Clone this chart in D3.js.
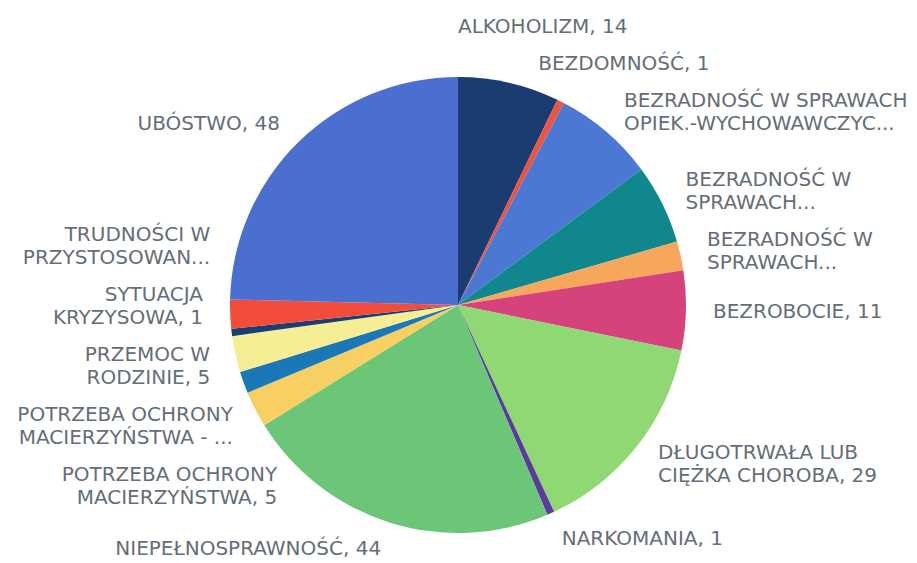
<!DOCTYPE html>
<html>
<head>
<meta charset="utf-8">
<script src="https://cdn.jsdelivr.net/npm/d3@7"></script>
<style>
  body { margin: 0; background: #fff; }
  .slice-label { font-family: "DejaVu Sans", sans-serif; font-size: 20px; fill: #656d78; }
</style>
</head>
<body>
<div id="chart"></div>
<script>
// label text as shown in the chart (lines)
const labelLines = [
  ['ALKOHOLIZM, 14'],
  ['BEZDOMNOŚĆ, 1'],
  ['BEZRADNOŚĆ W SPRAWACH', 'OPIEK.-WYCHOWAWCZYC...'],
  ['BEZRADNOŚĆ W', 'SPRAWACH...'],
  ['BEZRADNOŚĆ W', 'SPRAWACH...'],
  ['BEZROBOCIE, 11'],
  ['DŁUGOTRWAŁA LUB', 'CIĘŻKA CHOROBA, 29'],
  ['NARKOMANIA, 1'],
  ['NIEPEŁNOSPRAWNOŚĆ, 44'],
  ['POTRZEBA OCHRONY', 'MACIERZYŃSTWA, 5'],
  ['POTRZEBA OCHRONY', 'MACIERZYŃSTWA - ...'],
  ['PRZEMOC W', 'RODZINIE, 5'],
  ['SYTUACJA', 'KRYZYSOWA, 1'],
  ['TRUDNOŚCI W', 'PRZYSTOSOWAN...'],
  ['UBÓSTWO, 48']
];
const values = [14, 1, 14, 11, 4, 11, 29, 1, 44, 5, 3, 5, 1, 4, 48];
const colors = [
  '#1b3c70', '#f0533d', '#4b78d2', '#0f878d', '#f7a75c',
  '#d6427b', '#90d873', '#5b3a9e', '#6cc677', '#f7cf62',
  '#1b78b6', '#f6ee94', '#1c3d72', '#f24c3a', '#4b6fd1'
];

const width = 917, height = 563;
const cx = 458, cy = 305, radius = 228;
const labelR = 255, lineH = 23, pad = 14;

const svg = d3.select('#chart')
  .append('svg')
  .attr('width', width)
  .attr('height', height);

const pie = d3.pie().sort(null).value(d => d);
const arcs = pie(values);
const arc = d3.arc().innerRadius(0).outerRadius(radius);

const chart = svg.append('g')
  .attr('transform', `translate(${cx},${cy})`);

chart.selectAll('.slice')
  .data(arcs)
  .enter()
  .append('path')
  .classed('slice', true)
  .attr('d', arc)
  .attr('fill', (d, i) => colors[i]);

// label layout: start at mid angle on a ring, then push overlapping ones apart
const labels = arcs.map((a, i) => {
  const m = (a.startAngle + a.endAngle) / 2;
  return {
    i,
    right: m < Math.PI,
    y: -labelR * Math.cos(m),
    h: labelLines[i].length * lineH + pad
  };
});

// anchorBottom: keep the lowest label of a group in place and stack the rest above it
const spread = (list, anchorBottom) => {
  list.sort((a, b) => a.y - b.y);
  const place = g => {
    const H = d3.sum(g.items, d => d.h);
    let t;
    if (anchorBottom) {
      const last = g.items[g.items.length - 1];
      t = last.y + last.h / 2 - H;
    } else {
      t = d3.mean(g.items, d => d.y) - H / 2;
    }
    g.top = t;
    g.bottom = t + H;
    g.items.forEach(d => { d.ny = t + d.h / 2; t += d.h; });
  };
  const groups = list.map(d => ({ items: [d] }));
  groups.forEach(place);
  let merged = true;
  while (merged) {
    merged = false;
    for (let k = 0; k < groups.length - 1; k++) {
      if (groups[k].bottom > groups[k + 1].top) {
        groups[k].items = groups[k].items.concat(groups[k + 1].items);
        groups.splice(k + 1, 1);
        place(groups[k]);
        merged = true;
        break;
      }
    }
  }
};
spread(labels.filter(d => d.right), true);
spread(labels.filter(d => !d.right), false);

labels.forEach(d => {
  const dx = Math.sqrt(Math.max(0, labelR * labelR - d.ny * d.ny));
  d.x = d.right ? dx : -dx;
});

const text = chart.selectAll('.slice-label')
  .data(labels)
  .enter()
  .append('text')
  .classed('slice-label', true)
  .attr('text-anchor', d => d.right ? 'start' : 'end')
  .attr('transform', d => `translate(${d.x},${d.ny})`);

text.selectAll('tspan')
  .data(d => labelLines[d.i].map((t, k, arr) => ({ t, k, n: arr.length })))
  .enter()
  .append('tspan')
  .attr('x', 0)
  .attr('y', d => (d.k - (d.n - 1) / 2) * lineH)
  .attr('dy', '0.36em')
  .text(d => d.t);
</script>
</body>
</html>
